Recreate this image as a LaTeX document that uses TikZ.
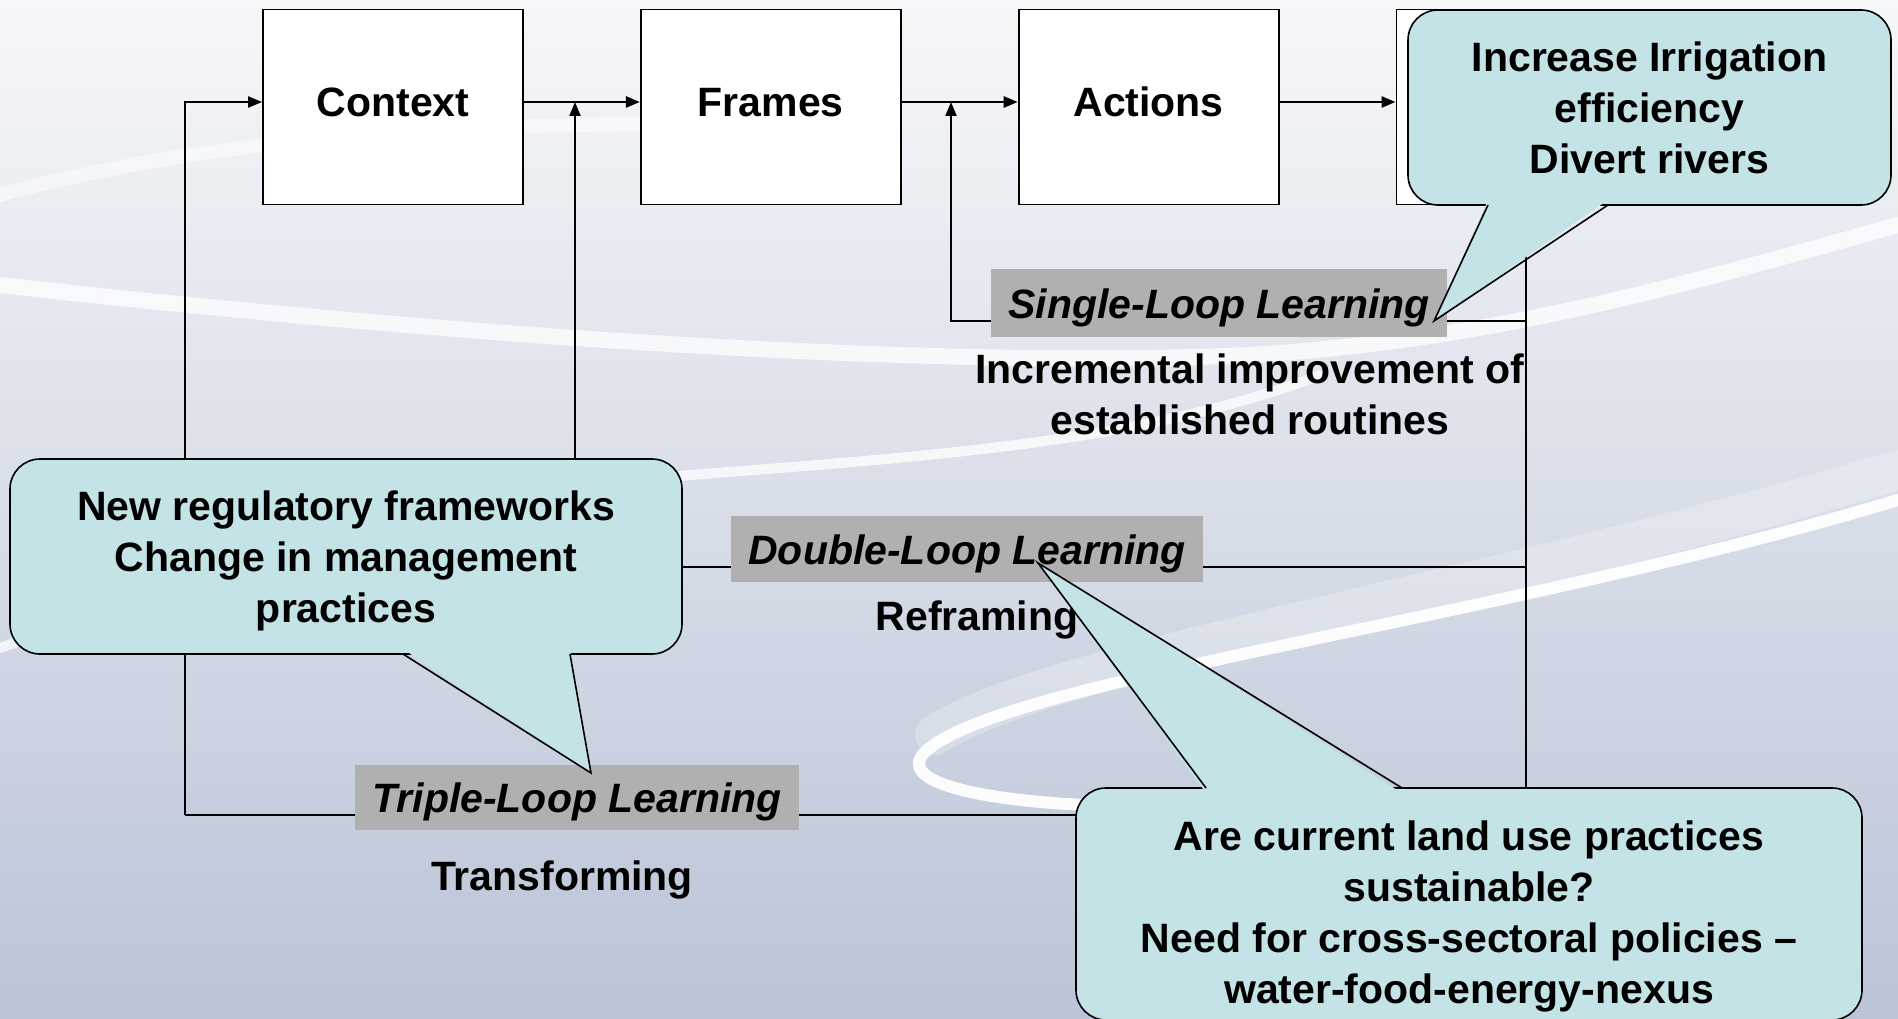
\documentclass[tikz,border=0pt]{standalone}
\usepackage{fontspec}
\setmainfont{Liberation Sans}
\usetikzlibrary{positioning,arrows.meta}

\definecolor{bubblefill}{HTML}{C4E3E6}
\definecolor{taggray}{HTML}{B0B0B0}
\definecolor{skytop}{HTML}{F6F7F9}
\definecolor{skybottom}{HTML}{BAC4D7}

\begin{document}
\begin{tikzpicture}[x=1pt, y=-1pt,
    every node/.style={font=\fontsize{41}{51}\selectfont\bfseries},
    stagebox/.style={draw, line width=1.8pt, fill=white, minimum width=260pt, minimum height=195pt, text height=30pt, text depth=10pt},
    flow/.style={line width=2.6pt, -{Triangle[length=14pt, width=11pt]}},
    loopline/.style={line width=2pt},
    looparrow/.style={line width=2pt, -{Triangle[length=14pt, width=11pt]}},
    looptag/.style={fill=taggray, inner sep=0pt, text height=31pt, text depth=0pt, font=\fontsize{41}{51}\selectfont\bfseries\itshape},
    bubble/.style={draw, line width=1.6pt, fill=bubblefill, rounded corners=30pt, align=center, inner sep=0pt},
    swoosh/.style={white, line cap=round}]

        \useasboundingbox (0,0) rectangle (1898,1019);
        \shade[top color=skytop, bottom color=skybottom] (0,0) rectangle (1898,1019);

        % background swirl
        \draw[swoosh, line width=14pt, opacity=0.5] (0,195) .. controls (200,140) and (450,120) .. (750,125);
        \draw[swoosh, line width=16pt, opacity=0.75] (0,285) .. controls (400,330) and (900,370) .. (1250,355) .. controls (1500,340) and (1700,280) .. (1898,225);
        \draw[swoosh, line width=10pt, opacity=0.75] (0,648) .. controls (250,560) and (450,495) .. (690,475) .. controls (950,455) and (1150,440) .. (1320,375);
        \draw[swoosh, line width=40pt, opacity=0.25] (1898,470) .. controls (1500,590) and (1050,660) .. (935,735);
        \draw[swoosh, line width=12pt, opacity=0.95] (1898,500) .. controls (1500,620) and (1000,680) .. (925,752) .. controls (895,782) and (980,800) .. (1085,805);

        \node[stagebox] (ctx) at (393,107) {Context};
        \node[stagebox, right=116pt of ctx] (frm) {Frames};
        \node[stagebox, right=116pt of frm] (act) {Actions};
        \node[stagebox, right=116pt of act] (out) {};

        \coordinate (row) at (0,102);
        \draw[flow] (ctx.east |- row) -- (frm.west |- row);
        \draw[flow] (frm.east |- row) -- (act.west |- row);
        \draw[flow] (act.east |- row) -- (out.west |- row);

        % the three loops
        \coordinate (sl) at (951,321);
        \coordinate (dl) at (575,567);
        \coordinate (tl) at (185,815);

        \draw[loopline] (out.south) |- (tl);
        \draw[looparrow] (tl) |- (ctx.west |- row);
        \draw[looparrow] (out.south |- dl) -- (dl) -- (dl |- row);
        \draw[looparrow] (out.south |- sl) -- (sl) -- (sl |- row);

        \node[looptag, minimum width=456pt, minimum height=68pt] (sll) at (1219,303) {Single-Loop Learning};
        \node[looptag, minimum width=472pt, minimum height=66pt] (dll) at (967,549) {Double-Loop Learning};
        \node[looptag, minimum width=444pt, minimum height=65pt] (tll) at (577,797) {Triple-Loop Learning};

        \node[align=center] (sld) at (1250,394) {Incremental improvement of\\established routines};
        \node (dld) at (977,620) {Reframing};
        \node (tld) at (562,880) {Transforming};

        % callouts
        \node[bubble, minimum width=483pt, minimum height=195pt] (irr) at (1649.5,107.5) {Increase Irrigation\\efficiency\\Divert rivers};
        \fill[bubblefill] (1488,200) -- (1434,321) -- (1608,200) -- cycle;
        \draw[line width=1.6pt] (1488,205) -- (1434,321) -- (1608,205);

        \node[bubble, minimum width=672pt, minimum height=195pt] (reg) at (346,556.5) {};
        \fill[bubblefill] (403,649) -- (591,773) -- (570,649) -- cycle;
        \draw[line width=1.6pt] (403,654) -- (591,773) -- (570,654);
        \node[align=center] (regtxt) at (346,561) {New regulatory frameworks\\Change in management\\practices};

        \node[bubble, minimum width=786pt, minimum height=232pt] (nex) at (1469,904) {};
        \fill[bubblefill] (1206,793) -- (1038,563) -- (1402,793) -- cycle;
        \draw[line width=1.6pt] (1206,788) -- (1038,563) -- (1402,788);
        \node[align=center] (nextxt) at (1469,916) {Are current land use practices\\sustainable?\\Need for cross-sectoral policies –\\water-food-energy-nexus};
      \end{tikzpicture}
\end{document}
